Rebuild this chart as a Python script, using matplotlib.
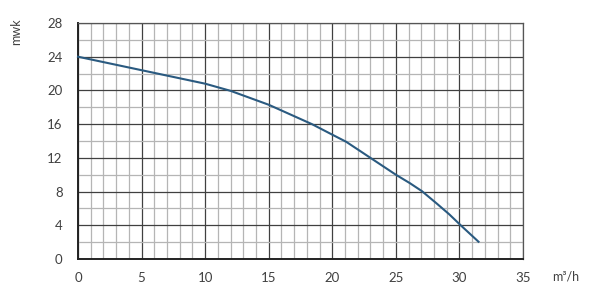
import matplotlib.pyplot as plt
from matplotlib.ticker import MultipleLocator

plt.rcParams["font.family"] = ["Lato", "DejaVu Sans"]

# Pump curve
flow = [0, 5, 10, 12, 15, 18.4, 20, 21.1, 23, 25, 26.1, 27.05, 28.2, 29.2, 30.1, 31.5]
head = [24, 22.4, 20.8, 19.95, 18.3, 16.0, 14.75, 13.9, 12.0, 10.0, 9.0, 8.05, 6.6, 5.3, 4.0, 2.05]

x_ticks = [0, 5, 10, 15, 20, 25, 30, 35]
y_ticks = [0, 4, 8, 12, 16, 20, 24, 28]

text_color = "#404040"

fig = plt.figure(figsize=(6, 3.01), dpi=100)
ax = fig.add_axes([0.13, 0.1395, 0.7417, 0.7841])

ax.set_xlim(0, 35)
ax.set_ylim(0, 28)
ax.set_xticks(x_ticks)
ax.set_yticks(y_ticks)
ax.xaxis.set_minor_locator(MultipleLocator(1))
ax.yaxis.set_minor_locator(MultipleLocator(2))

ax.grid(which="minor", color="#b5b5b5", linewidth=0.9)
ax.grid(which="major", color="#404040", linewidth=0.9)
ax.set_axisbelow(True)

for side in ["top", "right"]:
    ax.spines[side].set_color("#555555")
    ax.spines[side].set_linewidth(0.9)
for side in ["left", "bottom"]:
    ax.spines[side].set_color("#222222")
    ax.spines[side].set_linewidth(1.4)

ax.tick_params(which="both", length=0, colors=text_color, labelsize=9.5)
ax.tick_params(axis="x", pad=9)
ax.tick_params(axis="y", pad=11)

ax.plot(flow, head, color="#2a5a80", linewidth=1.5, clip_on=False, zorder=3)

fig.text(0.027, 0.895, "mwk", rotation=90, ha="center", va="center", fontsize=9, color=text_color)
fig.text(0.942, 0.08, "m³/h", ha="center", va="center", fontsize=9, color=text_color)

fig.savefig("out.png", dpi=100)
